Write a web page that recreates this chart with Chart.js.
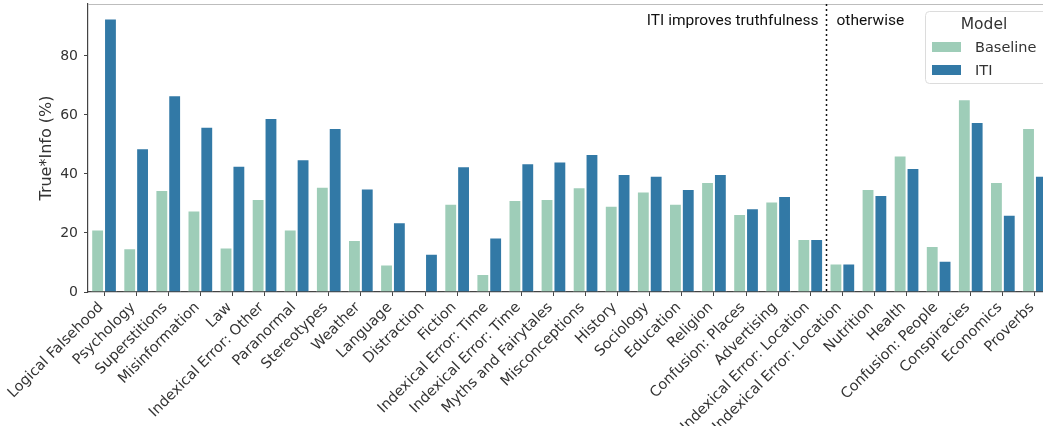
<!DOCTYPE html>
<html>
<head>
<meta charset="utf-8">
<script src="https://cdn.jsdelivr.net/npm/chart.js@4/dist/chart.umd.min.js"></script>
<style>
  html, body { margin: 0; padding: 0; background: #fff; overflow: hidden; }
  #wrap { width: 1052px; height: 426px; }
</style>
</head>
<body>
<div id="wrap"><canvas id="c" width="1052" height="426"></canvas></div>
<script>
const categories = [
  "Logical Falsehood", "Psychology", "Superstitions", "Misinformation", "Law",
  "Indexical Error: Other", "Paranormal", "Stereotypes", "Weather", "Language",
  "Distraction", "Fiction", "Indexical Error: Time", "Indexical Error: Time",
  "Myths and Fairytales", "Misconceptions", "History", "Sociology", "Education",
  "Religion", "Confusion: Places", "Advertising", "Indexical Error: Location",
  "Indexical Error: Location", "Nutrition", "Health", "Confusion: People",
  "Conspiracies", "Economics", "Proverbs"
];
const baselineValues = [
  21.2, 14.8, 34.6, 27.6, 15.1, 31.5, 21.2, 35.7, 17.6, 9.3,
  0, 29.9, 6.1, 31.2, 31.5, 35.5, 29.2, 34.1, 29.9, 37.3,
  26.4, 30.7, 18.0, 9.7, 34.9, 46.3, 15.6, 65.3, 37.3, 55.6
];
const itiValues = [
  92.7, 48.7, 66.7, 56.0, 42.8, 59.0, 45.0, 55.6, 35.1, 23.6,
  13.0, 42.6, 18.5, 43.6, 44.2, 46.8, 40.0, 39.4, 34.9, 40.0,
  28.4, 32.5, 18.0, 9.7, 32.9, 42.0, 10.6, 57.6, 26.2, 39.4
];
const yTicks = [0, 20, 40, 60, 80];
const seriesNames = ["Baseline", "ITI"];
const seriesColors = ["#9ecdb8", "#3279a6"];
const splitAfterIndex = 22;
const leftNote = "ITI improves truthfulness";
const rightNote = "otherwise";
const legendTitle = "Model";

const FONT = "'DejaVu Sans', sans-serif";

const overlay = {
  id: 'overlay',
  afterDraw(chart) {
    const ctx = chart.ctx;
    const a = chart.chartArea;
    const xs = chart.scales.x;
    ctx.save();
    // top spine
    ctx.strokeStyle = '#bdbdbd';
    ctx.lineWidth = 1;
    ctx.beginPath();
    ctx.moveTo(a.left, Math.round(a.top) + 0.5);
    ctx.lineTo(chart.width, Math.round(a.top) + 0.5);
    ctx.stroke();
    // dotted split line
    const xd = Math.round((xs.getPixelForValue(splitAfterIndex) + xs.getPixelForValue(splitAfterIndex + 1)) / 2) + 0.5;
    ctx.strokeStyle = '#111';
    ctx.lineWidth = 1.5;
    ctx.setLineDash([2, 3]);
    ctx.beginPath();
    ctx.moveTo(xd, a.top);
    ctx.lineTo(xd, a.bottom);
    ctx.stroke();
    ctx.setLineDash([]);
    // notes
    ctx.fillStyle = '#111';
    ctx.font = "15.5px Roboto, sans-serif";
    ctx.textBaseline = 'alphabetic';
    ctx.textAlign = 'right';
    ctx.fillText(leftNote, xd - 8, 25);
    ctx.textAlign = 'left';
    ctx.fillText(rightNote, xd + 10, 25);
    // legend
    const lx = 925.5, ly = 11.5, lw = 140, lh = 72, r = 4;
    ctx.fillStyle = 'rgba(255,255,255,0.85)';
    ctx.strokeStyle = '#dcdcdc';
    ctx.lineWidth = 1;
    ctx.beginPath();
    ctx.moveTo(lx + r, ly);
    ctx.lineTo(lx + lw - r, ly);
    ctx.arcTo(lx + lw, ly, lx + lw, ly + r, r);
    ctx.lineTo(lx + lw, ly + lh - r);
    ctx.arcTo(lx + lw, ly + lh, lx + lw - r, ly + lh, r);
    ctx.lineTo(lx + r, ly + lh);
    ctx.arcTo(lx, ly + lh, lx, ly + lh - r, r);
    ctx.lineTo(lx, ly + r);
    ctx.arcTo(lx, ly, lx + r, ly, r);
    ctx.closePath();
    ctx.fill();
    ctx.stroke();
    ctx.fillStyle = '#333';
    ctx.font = "15.5px " + FONT;
    ctx.textAlign = 'center';
    ctx.textBaseline = 'middle';
    ctx.fillText(legendTitle, 984, 25);
    ctx.textAlign = 'left';
    ctx.font = "14.5px " + FONT;
    const rowsY = [47, 70];
    chart.data.datasets.forEach((ds, i) => {
      ctx.fillStyle = ds.backgroundColor;
      ctx.fillRect(932, rowsY[i] - 5, 29, 10);
      ctx.fillStyle = '#333';
      ctx.fillText(ds.label, 975, rowsY[i] + 1);
    });
    ctx.restore();
  }
};

new Chart(document.getElementById('c'), {
  type: 'bar',
  data: {
    labels: categories,
    datasets: [
      { label: seriesNames[0], data: baselineValues, backgroundColor: seriesColors[0],
        borderColor: 'rgba(255,255,255,0.7)', borderWidth: 1, borderSkipped: 'bottom' },
      { label: seriesNames[1], data: itiValues, backgroundColor: seriesColors[1],
        borderColor: 'rgba(255,255,255,0.7)', borderWidth: 1, borderSkipped: 'bottom' }
    ]
  },
  options: {
    responsive: false,
    animation: false,
    devicePixelRatio: 1,
    layout: { padding: { left: 0, right: 1, top: 4, bottom: 0 } },
    datasets: { bar: { categoryPercentage: 0.8, barPercentage: 1.0 } },
    plugins: { legend: { display: false }, tooltip: { enabled: false } },
    scales: {
      x: {
        type: 'category',
        offset: true,
        afterFit(s) { s.height = 134; s.paddingLeft = 0; s.paddingRight = 0; },
        grid: { drawOnChartArea: false, drawTicks: true, tickLength: 4, color: '#444', offset: false },
        border: { display: true, color: '#444', width: 1.2 },
        ticks: {
          autoSkip: false, maxRotation: 45, minRotation: 45, padding: 3, labelOffset: -3,
          color: '#333', font: { family: FONT, size: 14.5 }
        }
      },
      y: {
        min: 0, max: 97.6,
        afterFit(s) { s.width = 88; s.paddingTop = 0; s.paddingBottom = 0; },
        afterBuildTicks(s) { s.ticks = yTicks.map(v => ({ value: v })); },
        grid: { drawOnChartArea: false, drawTicks: true, tickLength: 4, color: '#444' },
        border: { display: true, color: '#444', width: 1.2 },
        ticks: { padding: 6, color: '#333', font: { family: FONT, size: 14 } },
        title: {
          display: true, text: 'True*Info (%)', color: '#333',
          font: { family: FONT, size: 16 }, padding: { top: 37, bottom: 0 }
        }
      }
    }
  },
  plugins: [overlay]
});
</script>
</body>
</html>
